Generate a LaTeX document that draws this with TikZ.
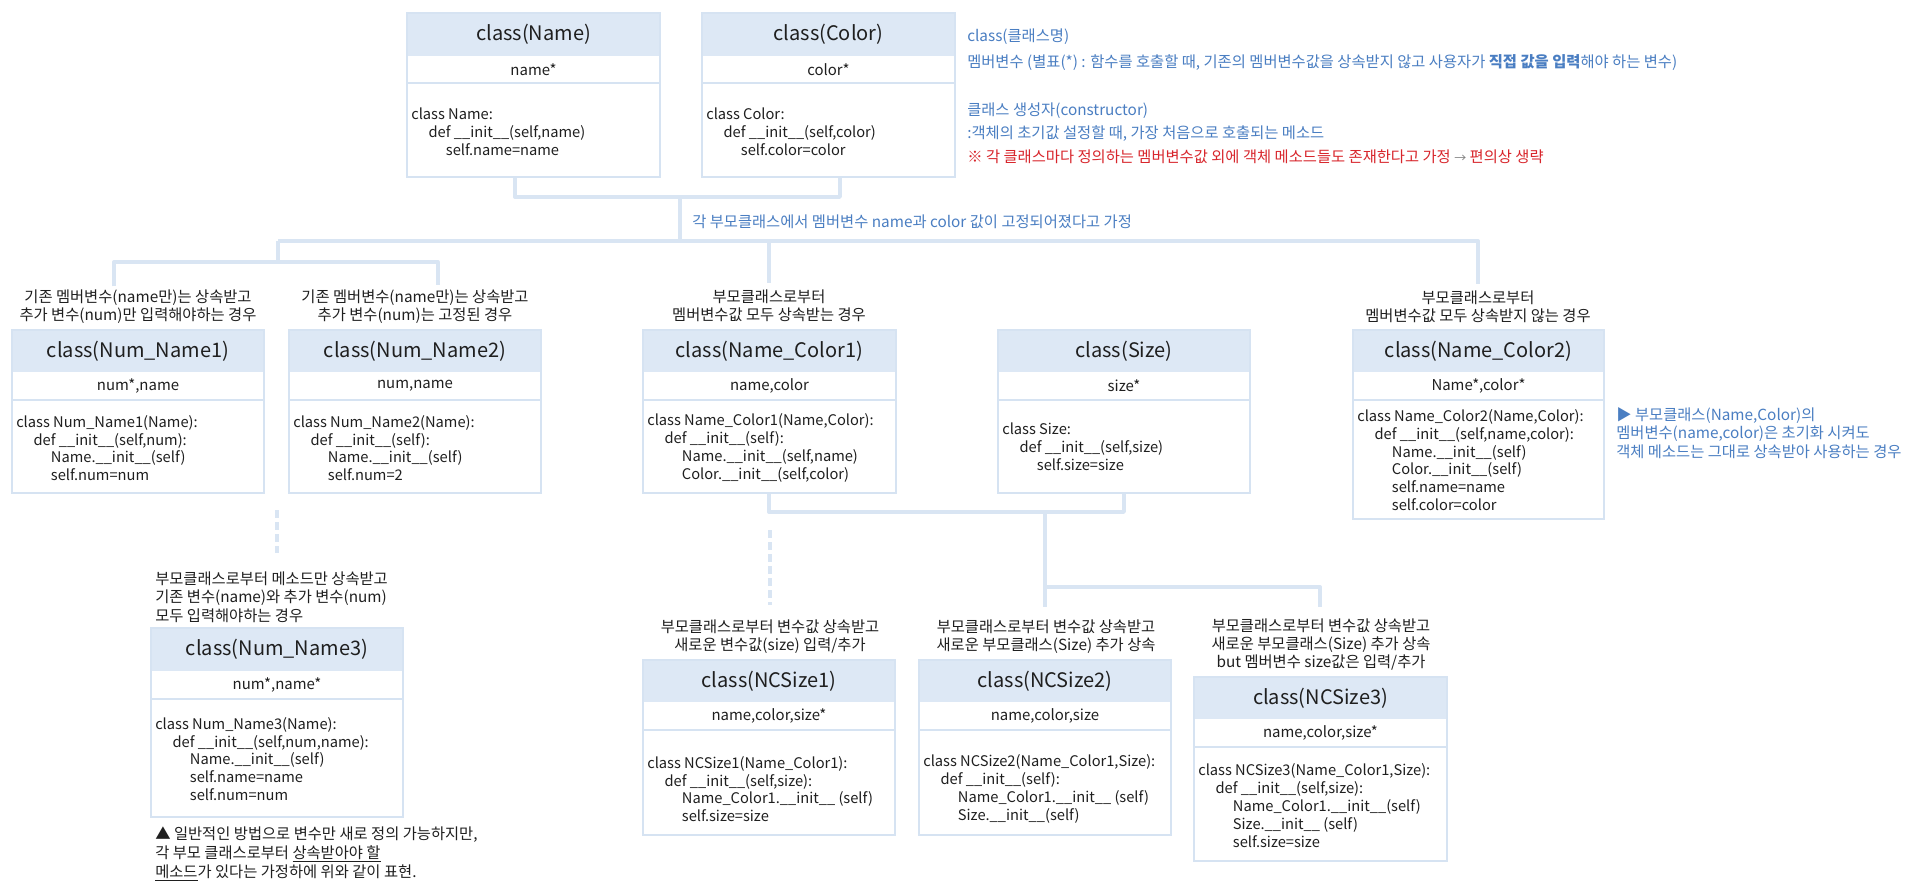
\documentclass[tikz,border=0pt]{standalone}
\usepackage{fontspec}
\setmainfont{Noto Sans CJK KR}
\usetikzlibrary{fit}
\definecolor{hdr}{HTML}{DDE8F5}
\definecolor{frm}{HTML}{D6E3F2}
\definecolor{cnc}{HTML}{D9E5F3}
\definecolor{blu}{HTML}{4A7EC2}
\definecolor{redt}{HTML}{D8262C}
\definecolor{txt}{HTML}{1F1F1F}
\newcommand\Ia{\hspace*{13pt}}
\newcommand\Ib{\hspace*{26pt}}
\newcommand\ClassBox[9]{%
  \fill[hdr] (#2,#4) rectangle (#3,#5);
  \draw[sepl] (#2,#6) -- (#3,#6);
  \node[frame, fit={(#2,#4) (#3,#7)}] (#1) {};
  \node[titlef] (#1-title) at ({(#2+#3)/2},{(#4+#5)/2}) {#8};
  \node[attrf] (#1-attr) at ({(#2+#3)/2},{(#5+#6)/2}) {#9};
}
\tikzset{
  frame/.style={draw=frm, line width=1.5pt, inner sep=0pt},
  sepl/.style={draw=frm, line width=1.5pt},
  titlef/.style={font=\fontsize{15pt}{18pt}\selectfont, text=txt, inner sep=0pt},
  attrf/.style={font=\fontsize{11.2pt}{14pt}\selectfont, text=txt, inner sep=0pt},
  codef/.style={font=\fontsize{11pt}{13.35pt}\selectfont, text=txt, inner sep=0pt, align=left, anchor=west},
  labf/.style={font=\fontsize{11.5pt}{13.5pt}\selectfont, text=txt, inner sep=0pt, align=center},
  labl/.style={font=\fontsize{11.5pt}{14pt}\selectfont, text=txt, inner sep=0pt, align=left, anchor=west},
  legf/.style={font=\fontsize{11.5pt}{13.8pt}\selectfont, text=blu, inner sep=0pt, anchor=west},
  cn/.style={draw=cnc, line width=2.5pt, line join=round},
  dcn/.style={draw=cnc, line width=2.5pt, dash pattern=on 6pt off 3pt},
}
\begin{document}
\begin{tikzpicture}[x=0.75pt,y=-0.75pt]
\fill[white] (0,0) rectangle (1920,894);
\useasboundingbox (0,0) rectangle (1920,894);

% ---------- top row ----------
\ClassBox{Name}{407}{660}{13}{56}{83}{177}{class(Name)}{name*}
\node[codef] (Name-code) at (411,132) {class Name:\\\Ia def \_\_init\_\_(self,name)\\\Ib self.name=name};
\ClassBox{Color}{702}{955}{13}{56}{83}{177}{class(Color)}{color*}
\node[codef] (Color-code) at (706,132) {class Color:\\\Ia def \_\_init\_\_(self,color)\\\Ib self.color=color};

% legend
\node[legf] (leg1) at (967,37) {class(클래스명)};
\node[legf] (leg2) at (967,63) {멤버변수 (별표(*) : 함수를 호출할 때, 기존의 멤버변수값을 상속받지 않고 사용자가 \textbf{직접 값을 입력}해야 하는 변수)};
\node[legf] (leg3) at (967,111) {클래스 생성자(constructor)};
\node[legf] (leg4) at (967,134) {:객체의 초기값 설정할 때, 가장 처음으로 호출되는 메소드};
\node[legf, text=redt] (leg5) at (967,157) {※ 각 클래스마다 정의하는 멤버변수값 외에 객체 메소드들도 존재한다고 가정 {\color{gray}\small→} 편의상 생략};

% ---------- second row ----------
\node[labf] (L1) at (138,306.5) {기존 멤버변수(name만)는 상속받고\\추가 변수(num)만 입력해야하는 경우};
\ClassBox{NumName1}{12}{264}{330}{372}{400}{493}{class(Num\_Name1)}{num*,name}
\node[codef] (NumName1-code) at (16,448) {class Num\_Name1(Name):\\\Ia def \_\_init\_\_(self,num):\\\Ib Name.\_\_init\_\_(self)\\\Ib self.num=num};

\node[labf] (L2) at (415,306.5) {기존 멤버변수(name만)는 상속받고\\추가 변수(num)는 고정된 경우};
\ClassBox{NumName2}{289}{541}{330}{372}{400}{493}{class(Num\_Name2)}{num,name}
\node[codef] (NumName2-code) at (293,448) {class Num\_Name2(Name):\\\Ia def \_\_init\_\_(self):\\\Ib Name.\_\_init\_\_(self)\\\Ib self.num=2};

\node[labf] (L3) at (769,306) {부모클래스로부터\\멤버변수값 모두 상속받는 경우};
\ClassBox{NameColor1}{643}{896}{330}{372}{400}{493}{class(Name\_Color1)}{name,color}
\node[codef] (NameColor1-code) at (647,448) {class Name\_Color1(Name,Color):\\\Ia def \_\_init\_\_(self):\\\Ib Name.\_\_init\_\_(self,name)\\\Ib Color.\_\_init\_\_(self,color)};

\ClassBox{Size}{998}{1250}{330}{372}{400}{493}{class(Size)}{size*}
\node[codef] (Size-code) at (1002,447) {class Size:\\\Ia def \_\_init\_\_(self,size)\\\Ib self.size=size};

\node[labf] (L5) at (1478,306.5) {부모클래스로부터\\멤버변수값 모두 상속받지 않는 경우};
\ClassBox{NameColor2}{1353}{1604}{330}{372}{400}{519}{class(Name\_Color2)}{Name*,color*}
\node[codef] (NameColor2-code) at (1357,460) {class Name\_Color2(Name,Color):\\\Ia def \_\_init\_\_(self,name,color):\\\Ib Name.\_\_init\_\_(self)\\\Ib Color.\_\_init\_\_(self)\\\Ib self.name=name\\\Ib self.color=color};
\node[legf, align=left, font=\fontsize{11.5pt}{13.9pt}\selectfont] (side) at (1616,433) {▶ 부모클래스(Name,Color)의\\멤버변수(name,color)은 초기화 시켜도\\객체 메소드는 그대로 상속받아 사용하는 경우};

% ---------- third row ----------
\node[labl] (L6) at (155,597) {부모클래스로부터 메소드만 상속받고\\기존 변수(name)와 추가 변수(num)\\모두 입력해야하는 경우};
\ClassBox{NumName3}{151}{403}{628}{671}{699}{817}{class(Num\_Name3)}{num*,name*}
\node[codef] (NumName3-code) at (155,759) {class Num\_Name3(Name):\\\Ia def \_\_init\_\_(self,num,name):\\\Ib Name.\_\_init\_\_(self)\\\Ib self.name=name\\\Ib self.num=num};
\node[labl] (note) at (155,854) {▲ 일반적인 방법으로 변수만 새로 정의 가능하지만,\\각 부모 클래스로부터 \underline{상속받아야 할}\\\underline{메소드}가 있다는 가정하에 위와 같이 표현.};

\node[labf] (L7) at (770,636.5) {부모클래스로부터 변수값 상속받고\\새로운 변수값(size) 입력/추가};
\ClassBox{NCSize1}{643}{895}{660}{702}{730}{835}{class(NCSize1)}{name,color,size*}
\node[codef] (NCSize1-code) at (647,789) {class NCSize1(Name\_Color1):\\\Ia def \_\_init\_\_(self,size):\\\Ib Name\_Color1.\_\_init\_\_ (self)\\\Ib self.size=size};

\node[labf] (L8) at (1046,636.5) {부모클래스로부터 변수값 상속받고\\새로운 부모클래스(Size) 추가 상속};
\ClassBox{NCSize2}{919}{1171}{660}{702}{730}{835}{class(NCSize2)}{name,color,size}
\node[codef] (NCSize2-code) at (923,789) {class NCSize2(Name\_Color1,Size):\\\Ia def \_\_init\_\_(self):\\\Ib Name\_Color1.\_\_init\_\_ (self)\\\Ib Size.\_\_init\_\_(self)};

\node[labf] (L9) at (1321,645) {부모클래스로부터 변수값 상속받고\\새로운 부모클래스(Size) 추가 상속\\but 멤버변수 size값은 입력/추가};
\ClassBox{NCSize3}{1194}{1447}{677}{719}{747}{861}{class(NCSize3)}{name,color,size*}
\node[codef] (NCSize3-code) at (1198,805.5) {class NCSize3(Name\_Color1,Size):\\\Ia def \_\_init\_\_(self,size):\\\Ib Name\_Color1.\_\_init\_\_(self)\\\Ib Size.\_\_init\_\_ (self)\\\Ib self.size=size};

% ---------- connectors ----------
\coordinate (jA) at (515,197);
\coordinate (jB) at (840,197);
\draw[cn] (Name.south -| jA) -- (jA) -- (jB) -- (Color.south -| jB);
\coordinate (jC) at (680,197);
\coordinate (bL) at (278,241);
\coordinate (jD) at (680,241);
\draw[cn] (jC) -- (jD);
\node[legf] (mid) at (692,222) {각 부모클래스에서 멤버변수 name과 color 값이 고정되어졌다고 가정};
\draw[cn] (bL) -- (L5.north |- bL) -- ([yshift=5pt]L5.north);
\draw[cn] (L3.north |- bL) -- ([yshift=5pt]L3.north);
\coordinate (jE) at (278,262);
\coordinate (jF) at (114,262);
\coordinate (jG) at (438,262);
\draw[cn] (bL) -- (jE);
\draw[cn] (jF |- L1.north) ++(0,-3) -- (jF) -- (jG) -- ++(0,23);
\coordinate (dA) at (277,510);
\coordinate (dB) at (277,553);
\draw[dcn] (dA) -- (dB);

\coordinate (kA) at (769,512);
\coordinate (kB) at (1124,512);
\draw[cn] (NameColor1.south -| kA) -- (kA) -- (kB) -- (Size.south -| kB);
\coordinate (kC) at (1045,512);
\coordinate (kD) at (1045,587);
\coordinate (kE) at (1320,587);
\coordinate (kF) at (1045,607);
\coordinate (kG) at (1320,607);
\draw[cn] (kC) -- (kF);
\draw[cn] (kD) -- (kE) -- (kG);
\coordinate (dC) at (770,530);
\coordinate (dD) at (770,605);
\draw[dcn] (dC) -- (dD);
\end{tikzpicture}
\end{document}
